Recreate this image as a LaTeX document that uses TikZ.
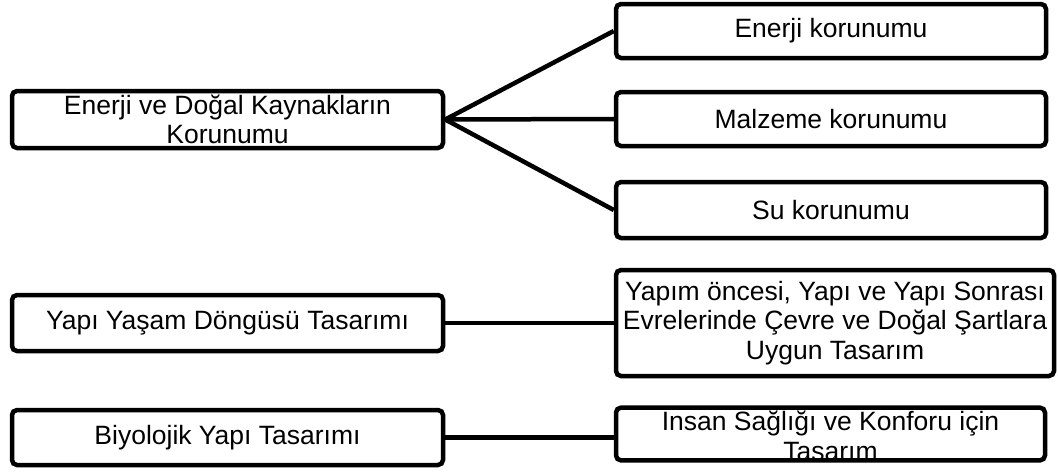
\documentclass[tikz,border=0pt]{standalone}
\usepackage{fontspec}
\setmainfont{Liberation Sans}
\begin{document}
\begin{tikzpicture}[x=1pt,y=-1pt,
  box/.style={draw=black,line width=4.5pt,rounded corners=5pt,inner sep=0pt,align=center,
    font=\fontsize{26.5}{29.5}\selectfont,fill=white},
  link/.style={line width=4.5pt,draw=black}]
\useasboundingbox (0,0) rectangle (1058,472);
% left column
\node[box,minimum width=431pt,minimum height=57pt] (L1) at (227.5,119.5) {Enerji ve Doğal Kaynakların\\Korunumu};
\node[box,minimum width=431pt,minimum height=56pt] (L2) at (227.5,323) {Yapı Yaşam Döngüsü Tasarımı};
\node[box,minimum width=431pt,minimum height=55pt] (L3) at (227.5,437.5) {Biyolojik Yapı Tasarımı};
% right column
\node[box,minimum width=430pt,minimum height=54pt] (E) at (831,31) {Enerji korunumu};
\node[box,minimum width=430pt,minimum height=54pt] (M) at (831,119) {Malzeme korunumu};
\node[box,minimum width=430pt,minimum height=56pt] (S) at (831,210) {Su korunumu};
\node[box,minimum width=438pt,minimum height=106pt] (Y) at (835,323) {Yapım öncesi, Yapı ve Yapı Sonrası\\Evrelerinde Çevre ve Doğal Şartlara\\Uygun Tasarım};
\node[box,minimum width=429pt,minimum height=50pt] (I) at (830.5,434) {İnsan Sağlığı ve Konforu için\\Tasarım};
% connectors
\draw[link] (L1.east) -- (E.west);
\draw[link] (L1.east) -- (M.west);
\draw[link] (L1.east) -- (S.west);
\draw[link] (L2.east) -- (Y.west);
\draw[link] (L3.east) -- (L3.east -| I.west);
\end{tikzpicture}
\end{document}
